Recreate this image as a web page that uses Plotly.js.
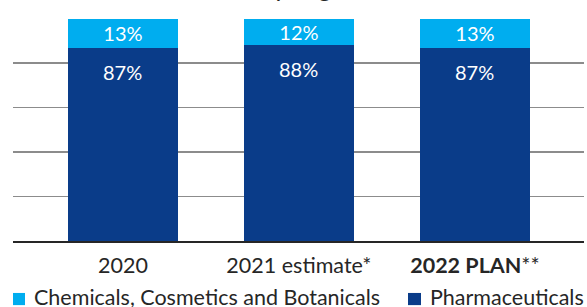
<!DOCTYPE html>
<html><head><meta charset="utf-8">
<script src="https://cdn.plot.ly/plotly-3.0.1.min.js"></script>
<style>html,body{margin:0;padding:0;background:#fff;}#chart{width:587px;height:307px;}</style>
</head><body><div id="chart"></div>
<script>
const categories = ["2020", "2021 estimate*", "<b>2022 PLAN</b>**"];
const pharmaceuticals = [87, 88, 87];
const chemicals = [13, 12, 13];
const seriesNames = ["Pharmaceuticals", "Chemicals, Cosmetics and Botanicals"];
const seriesColors = ["#0a3c89", "#00adef"];
const titleText = "Sales by segment";

const font = "Lato, 'Open Sans', sans-serif";
const pct = v => v + "%";
const traces = [
  {type: "bar", name: seriesNames[0], x: categories, y: pharmaceuticals,
   marker: {color: seriesColors[0], line: {width: 0}}, width: 0.625, hoverinfo: "none"},
  {type: "bar", name: seriesNames[1], x: categories, y: chemicals,
   marker: {color: seriesColors[1], line: {width: 0}}, width: 0.625,
   text: chemicals.map(pct), textposition: "inside", insidetextanchor: "middle", constraintext: "none",
   textfont: {color: "#fff", size: 20, family: font}, hoverinfo: "none"}
];
const annotations = categories.map((c, i) => ({
  x: i, y: pharmaceuticals[i], xref: "x", yref: "y", yanchor: "top", yshift: -10,
  text: pct(pharmaceuticals[i]), showarrow: false,
  font: {color: "#fff", size: 20, family: font}
}));
annotations.push({text: titleText, xref: "paper", yref: "paper", x: 0.315, xanchor: "left",
  y: 1, yshift: 14, yanchor: "bottom", showarrow: false,
  font: {size: 26, color: "#262626", family: font}});

// custom legend (Chemicals first, then Pharmaceuticals), placed in paper coordinates
const legendItems = [
  {name: seriesNames[1], color: seriesColors[1], sx0: 0, sx1: 0.021, tx: 0.033},
  {name: seriesNames[0], color: seriesColors[0], sx0: 0.6918, sx1: 0.7145, tx: 0.7268}
];
const shapes = [];
legendItems.forEach(it => {
  shapes.push({type: "rect", xref: "paper", yref: "paper", x0: it.sx0, x1: it.sx1,
    y0: -0.2875, y1: -0.233, fillcolor: it.color, line: {width: 0}});
  annotations.push({text: it.name, xref: "paper", yref: "paper", x: it.tx, xanchor: "left",
    y: -0.251, yanchor: "middle", showarrow: false,
    font: {size: 21.5, color: "#262626", family: font}});
});

const layout = {
  width: 587, height: 307,
  margin: {l: 13, r: 3, t: 18, b: 66, autoexpand: false},
  barmode: "stack",
  paper_bgcolor: "#fff", plot_bgcolor: "#fff",
  font: {family: font, color: "#262626"},
  xaxis: {type: "category", range: [-0.625, 2.62], showgrid: false, zeroline: false,
          showline: true, linecolor: "#262626", linewidth: 1.5, ticks: "",
          tickfont: {size: 21.5, color: "#262626"}, ticklabelstandoff: 5, fixedrange: true},
  yaxis: {range: [0, 100.3], dtick: 20, showticklabels: false, showgrid: true,
          gridcolor: "#8c8c8c", gridwidth: 1.5, zeroline: false, showline: false, fixedrange: true},
  showlegend: false,
  shapes: shapes,
  annotations: annotations
};
Plotly.newPlot("chart", traces, layout, {displayModeBar: false, staticPlot: true});
</script></body></html>
